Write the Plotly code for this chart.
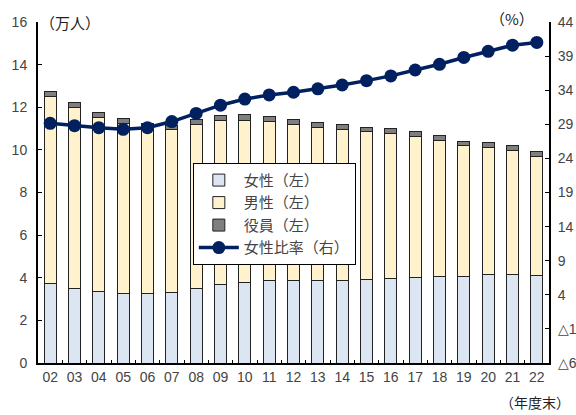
import plotly.graph_objects as go

years = ["02","03","04","05","06","07","08","09","10","11","12","13","14","15","16","17","18","19","20","21","22"]
women = [3.75,3.51,3.36,3.25,3.25,3.33,3.48,3.70,3.80,3.86,3.86,3.86,3.89,3.94,3.98,4.02,4.05,4.05,4.13,4.17,4.11]
men = [8.75,8.46,8.14,8.00,7.80,7.62,7.72,7.67,7.60,7.46,7.32,7.18,7.07,6.92,6.78,6.63,6.41,6.16,5.99,5.82,5.60]
officers = [0.26,0.25,0.25,0.20,0.20,0.20,0.23,0.25,0.24,0.24,0.24,0.24,0.22,0.21,0.24,0.22,0.22,0.20,0.22,0.22,0.23]
ratio = [29.15,28.8,28.5,28.27,28.5,29.4,30.6,31.8,32.7,33.3,33.7,34.2,34.76,35.4,36.1,36.96,37.8,38.8,39.7,40.6,41.0]

left_ticks = [0,2,4,6,8,10,12,14,16]
right_tickvals = [-6,-1,4,9,14,19,24,29,34,39,44]
right_ticktext = ["△6","△1","4","9","14","19","24","29","34","39","44"]

FONT = "Liberation Sans, Arial, sans-serif"
CJK = "Noto Sans CJK JP"
TXT = "#444444"

fig = go.Figure()
fig.add_trace(go.Bar(x=years, y=women, name="女性（左）", marker=dict(color="#DCE6F2", line=dict(color="#222222", width=1))))
fig.add_trace(go.Bar(x=years, y=men, name="男性（左）", marker=dict(color="#FFF2CC", line=dict(color="#222222", width=1))))
fig.add_trace(go.Bar(x=years, y=officers, name="役員（左）", marker=dict(color="#7F7F7F", line=dict(color="#222222", width=1))))
fig.add_trace(go.Scatter(x=years, y=ratio, name="女性比率（右）", yaxis="y2", mode="lines+markers",
                         line=dict(color="#002060", width=3.5), marker=dict(color="#002060", size=13)))

fig.update_layout(
    width=576, height=415,
    margin=dict(l=38, r=27, t=22, b=52, autoexpand=False),
    barmode="stack", bargap=0.5,
    plot_bgcolor="white", paper_bgcolor="white",
    font=dict(family=FONT, size=14, color=TXT),
    xaxis=dict(type="category", range=[-0.5, 20.5], showline=True, linecolor="black", linewidth=2,
               ticks="inside", tickson="boundaries", ticklen=3, tickcolor="black", showgrid=False,
               tickangle=0, automargin=False, tickfont=dict(size=14, color=TXT, family=FONT)),
    yaxis=dict(range=[0,16], tickvals=left_ticks, showline=True, linecolor="black", linewidth=2,
               ticks="inside", ticklen=4, tickcolor="black", showgrid=False, zeroline=False,
               automargin=False, ticklabelstandoff=6, tickfont=dict(size=14, color=TXT, family=FONT)),
    yaxis2=dict(range=[-6,44], overlaying="y", side="right", tickvals=right_tickvals, ticktext=right_ticktext,
                showline=True, linecolor="black", linewidth=2, ticks="inside", ticklen=4, tickcolor="black",
                showgrid=False, zeroline=False, automargin=False, ticklabelstandoff=4,
                tickfont=dict(size=14, color=TXT, family=FONT)),
    legend=dict(x=0.303, y=0.587, xanchor="left", yanchor="top", bgcolor="white", bordercolor="black",
                borderwidth=1, traceorder="normal", font=dict(size=15, color=TXT, family=CJK),
                tracegroupgap=0, itemwidth=40),
    annotations=[
        dict(text="（万人）", xref="paper", yref="paper", x=0.0, y=1.0, xanchor="left", yanchor="middle",
             showarrow=False, font=dict(size=15, color="#222222", family=CJK)),
        dict(text="（%）", xref="paper", yref="paper", x=0.975, y=1.01, xanchor="right", yanchor="middle",
             showarrow=False, font=dict(size=15, color="#222222", family=CJK)),
        dict(text="（年度末）", xref="paper", yref="paper", x=1.045, y=-0.115, xanchor="right", yanchor="middle",
             showarrow=False, font=dict(size=14, color="#222222", family=CJK)),
    ],
)

fig.write_html("out.html")
